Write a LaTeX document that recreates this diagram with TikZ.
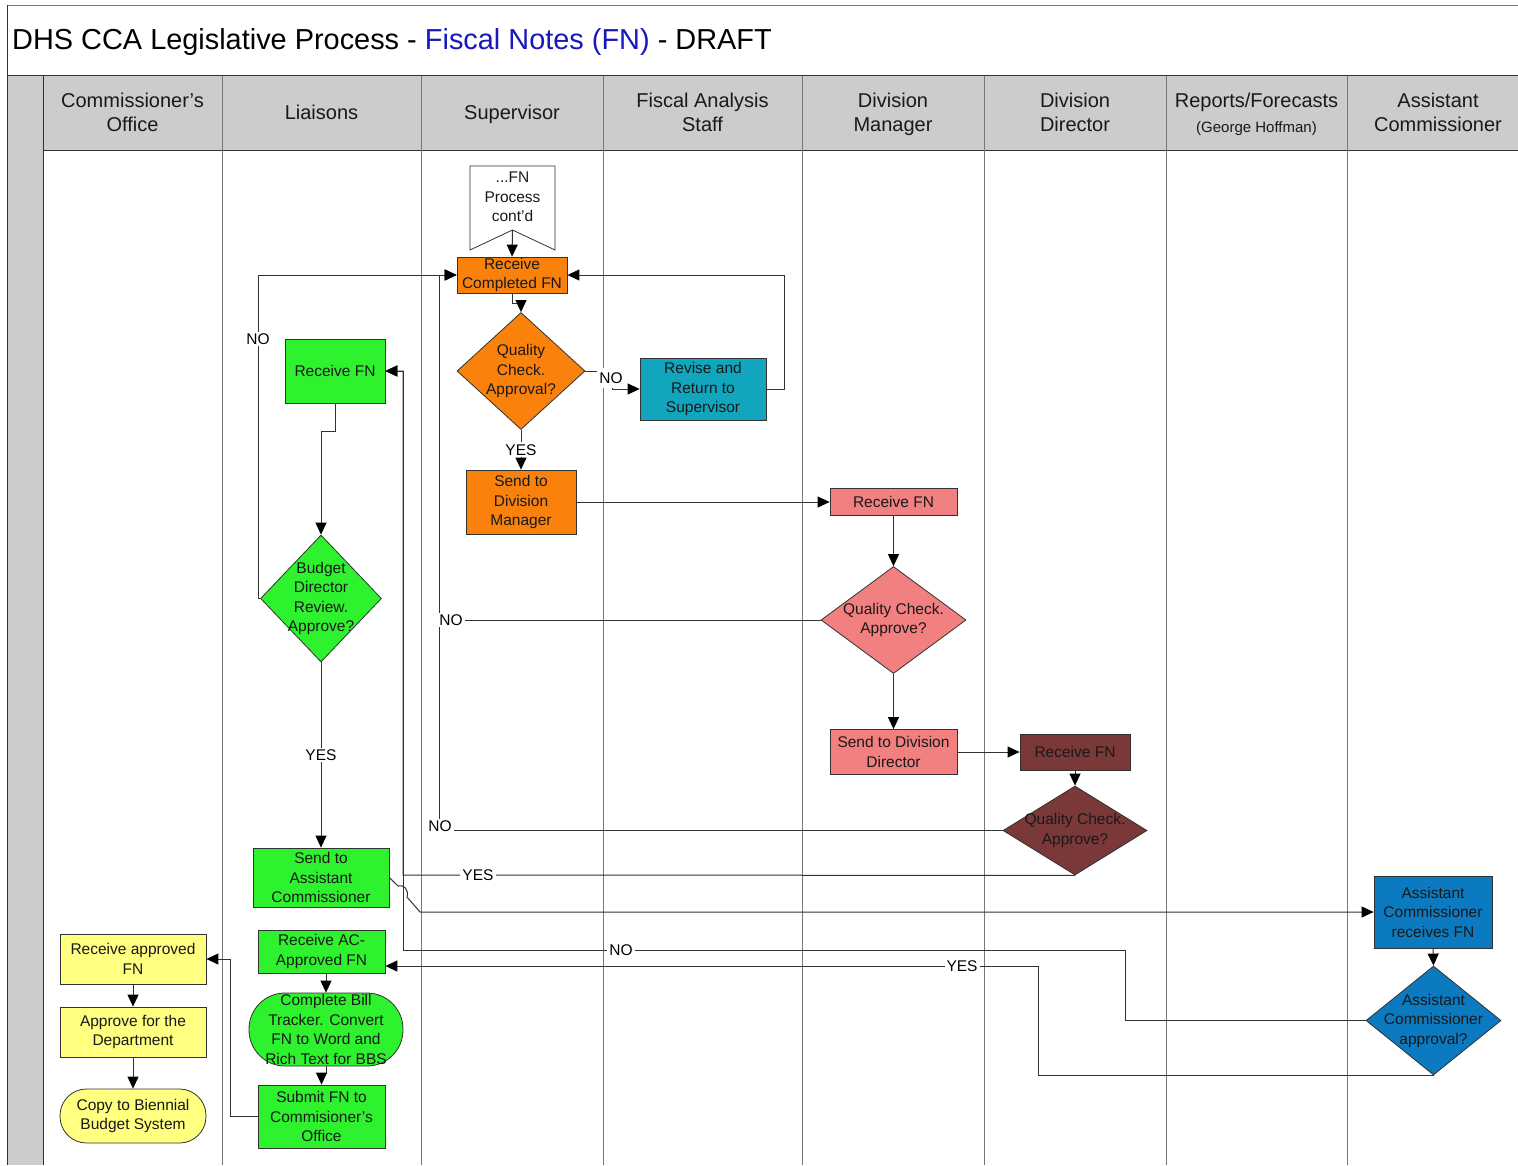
\documentclass[tikz,border=0pt]{standalone}
\usepackage{fontspec}
\setmainfont{Liberation Sans}
\usetikzlibrary{arrows.meta,shapes.geometric,calc}

\definecolor{fnorange}{RGB}{250,130,12}
\definecolor{fnteal}{RGB}{18,166,190}
\definecolor{fngreen}{RGB}{45,242,45}
\definecolor{fnsalmon}{RGB}{242,128,128}
\definecolor{fnbrown}{RGB}{122,56,56}
\definecolor{fnblue}{RGB}{12,122,192}
\definecolor{fnyellow}{RGB}{255,255,128}
\definecolor{hdrgray}{RGB}{204,204,204}
\definecolor{lanegray}{RGB}{120,120,120}
\definecolor{linegray}{RGB}{50,50,50}
\definecolor{titleblue}{RGB}{24,24,190}

\begin{document}
\begin{tikzpicture}[x=1pt,y=-1pt,
  box/.style={draw=linegray, line width=0.8pt, inner sep=0pt, align=center,
    font=\fontsize{15.5}{19.5}\selectfont, text=black!90},
  dia/.style={diamond, draw=linegray, line width=0.8pt, inner sep=0pt},
  dtxt/.style={align=center, font=\fontsize{15.5}{19.5}\selectfont, text=black!90, inner sep=0pt},
  conn/.style={draw=linegray, line width=1pt},
  arr/.style={conn, -{Triangle[length=12pt,width=11pt,color=black,fill=black]}},
  lbl/.style={fill=white, inner sep=2pt, font=\fontsize{15.5}{18}\selectfont},
  hdr/.style={align=center, font=\fontsize{20}{24}\selectfont, text=black!90},
  lane/.style={draw=lanegray, line width=1pt},
]
% canvas
\fill[white] (0,0) rectangle (1518,1165);
\useasboundingbox (0,0) rectangle (1518,1165);

% title strip and swimlane frame
\fill[hdrgray] (7,76) rectangle (1518,150);
\fill[hdrgray] (7,150) rectangle (43,1165);
\draw[lanegray, line width=1pt] (7,5) -- (1518,5);
\draw[linegray, line width=1pt] (7,5) -- (7,1165);
\draw[linegray, line width=1pt] (7,75.5) -- (1518,75.5);
\draw[linegray, line width=1pt] (43,76) -- (43,1165);
\draw[linegray, line width=1pt] (43,150) -- (1518,150);
\foreach \lx in {222,421,603,802,984,1166,1347} {
  \draw[lane] (\lx,76) -- (\lx,1165);
}

\node[anchor=west, inner sep=0pt, font=\fontsize{28.9}{32}\selectfont] (title) at (12,42)
  {DHS CCA Legislative Process - \textcolor{titleblue}{Fiscal Notes (FN)} - DRAFT};

% lane headers
\node[hdr] (hco)  at (132.5,112) {Commissioner's\\Office};
\node[hdr] (hli)  at (321.5,112) {Liaisons};
\node[hdr] (hsu)  at (512,114)   {Supervisor};
\node[hdr] (hfa)  at (702.5,112) {Fiscal Analysis\\Staff};
\node[hdr] (hdm)  at (893,114)   {Division\\Manager};
\node[hdr] (hdd)  at (1075,112)  {Division\\Director};
\node[hdr] (hrf)  at (1256.5,114) {Reports/Forecasts\\[1pt]{\fontsize{15}{18}\selectfont (George Hoffman)}};
\node[hdr] (hac)  at (1438,112)  {Assistant\\Commissioner};

% off-page reference
\draw[draw=linegray, fill=white, line width=0.8pt]
  (470,166) -- (555,166) -- (555,250) -- (512.5,230) -- (470,250) -- cycle;
\node[dtxt] (OFF) at (512.5,197) {...FN\\Process\\cont’d};
\coordinate (OFFtip) at (512.5,230);

% Supervisor lane
\node[box, fill=fnorange, minimum width=110pt, minimum height=36pt] (RCF) at (512,275) {Receive\\Completed FN};
\node[dia, fill=fnorange, minimum width=128pt, minimum height=117pt] (Q1) at (521,371) {};
\node[dtxt] (Q1t) at (Q1) {Quality\\Check.\\Approval?};
\node[box, fill=fnorange, minimum width=110pt, minimum height=64pt] (SDM) at (521,502) {Send to\\Division\\Manager};

% Fiscal Analysis Staff lane
\node[box, fill=fnteal, minimum width=126pt, minimum height=62pt] (REV) at (703,389) {Revise and\\Return to\\Supervisor};

% Division Manager lane
\node[box, fill=fnsalmon, minimum width=127pt, minimum height=27pt] (DMR) at (893.5,502) {Receive FN};
\node[dia, fill=fnsalmon, minimum width=145pt, minimum height=107pt] (DMQ) at (893.5,620) {};
\node[dtxt] (DMQt) at (DMQ) {Quality Check.\\Approve?};
\node[box, fill=fnsalmon, minimum width=127pt, minimum height=45pt] (SDD) at (893.5,752) {Send to Division\\Director};

% Division Director lane
\node[box, fill=fnbrown, minimum width=110pt, minimum height=36pt] (DDR) at (1075,752) {Receive FN};
\node[dia, fill=fnbrown, minimum width=144pt, minimum height=89pt] (DDQ) at (1075,830.5) {};
\node[dtxt] (DDQt) at (DDQ) {Quality Check.\\Approve?};

% Assistant Commissioner lane
\node[box, fill=fnblue, minimum width=118pt, minimum height=72pt] (ACR) at (1433,912) {Assistant\\Commissioner\\receives FN};
\node[dia, fill=fnblue, minimum width=135pt, minimum height=109pt] (ACQ) at (1433.5,1020.5) {};
\node[dtxt] (ACQt) at (ACQ) {Assistant\\Commissioner\\approval?};

% Liaisons lane
\node[box, fill=fngreen, minimum width=100pt, minimum height=64pt] (LRF) at (335,371) {Receive FN};
\node[dia, fill=fngreen, minimum width=121pt, minimum height=127pt] (BDQ) at (321,598.5) {};
\node[dtxt] (BDQt) at (BDQ) {Budget\\Director\\Review.\\Approve?};
\node[box, fill=fngreen, minimum width=136pt, minimum height=59pt] (SAC) at (321,877.5) {Send to\\Assistant\\Commissioner};
\node[box, fill=fngreen, minimum width=127pt, minimum height=43pt] (RAA) at (321.5,951.5) {Receive AC-\\Approved FN};
\node[box, fill=fngreen, minimum width=154pt, minimum height=73pt, rounded corners=36pt] (CBT) at (326,1029.5)
  {Complete Bill\\Tracker. Convert\\FN to Word and\\Rich Text for BBS};
\node[box, fill=fngreen, minimum width=127pt, minimum height=63pt] (SUB) at (321.5,1116.5) {Submit FN to\\Commisioner’s\\Office};

% Commissioner's Office lane
\node[box, fill=fnyellow, minimum width=146pt, minimum height=50pt] (CRA) at (133,959) {Receive approved\\FN};
\node[box, fill=fnyellow, minimum width=146pt, minimum height=50pt] (CAP) at (133,1032) {Approve for the\\Department};
\node[box, fill=fnyellow, minimum width=146pt, minimum height=54pt, rounded corners=26.5pt] (CCB) at (133,1116) {Copy to Biennial\\Budget System};

% connectors: supervisor loop
\draw[arr] (OFFtip) -- (RCF.north);
\draw[arr] (RCF.south) -- ++(0,10) -| (Q1.north);
\draw[arr] (Q1.east) -- (612,371) -- (612,389) -- (REV.west);
\node[lbl, minimum height=20pt] (noQ1) at (611,378) {NO};
\draw[arr] (REV.east) -- ++(18,0) |- (RCF.east);
\draw[arr] (Q1.south) -- node[lbl] (yesQ1) {YES} (SDM.north);
\draw[arr] (SDM.east) -- (DMR.west);

% division manager / director
\draw[arr] (DMR.south) -- (DMQ.north);
\draw[conn] (DMQ.west) -- (439,620);
\draw[arr] (DMQ.south) -- (SDD.north);
\draw[arr] (SDD.east) -- (DDR.west);
\draw[arr] (DDR.south) -- (DDQ.north);
\draw[arr] (DDQ.west) -- (439,830.5) |- (RCF.west);
\node[lbl] (noDM) at (451,620) {NO};
\node[lbl] (noDD) at (440,826) {NO};

% liaisons review
\draw[arr] (LRF.south) -- (335,431) -| (BDQ.north);
\draw[arr] (BDQ.west) -- ++(-1.5,0) |- (RCF.west);
\node[lbl] (noBD) at (258,339) {NO};
\draw[arr] (BDQ.south) -- node[lbl, pos=0.5] (yesBD) {YES} (SAC.north);

% returns to the liaisons
\draw[arr] (DDQ.south) -- (403,875) |- (LRF.east);
\node[lbl] (yesDD) at (478,875) {YES};
\draw[arr] (ACQ.west) -| (1125,950) -- (403,950) |- (LRF.east);
\node[lbl] (noAC) at (621,950) {NO};
\draw[arr] (ACQ.south) -| (1038,966) -- ([yshift=-14.5pt]RAA.east);
\node[lbl] (yesAC) at (962,966) {YES};

% send to the assistant commissioner, hopping over the return line
\draw[arr] (SAC.east) -- (398,886) .. controls (404,884) and (409,890) .. (407,897)
  -- (420,912) -- (ACR.west);
\draw[arr] (ACR.south) -- (ACQ.north);

% final steps
\draw[arr] (RAA.south -| CBT.north) -- (CBT.north);
\draw[arr] (CBT.south) -- ++(0,7) -| (SUB.north);
\draw[arr] (SUB.west) -- ++(-27,0) |- (CRA.east);
\draw[arr] (CRA.south) -- (CAP.north);
\draw[arr] (CAP.south) -- (CCB.north);
\end{tikzpicture}
\end{document}
